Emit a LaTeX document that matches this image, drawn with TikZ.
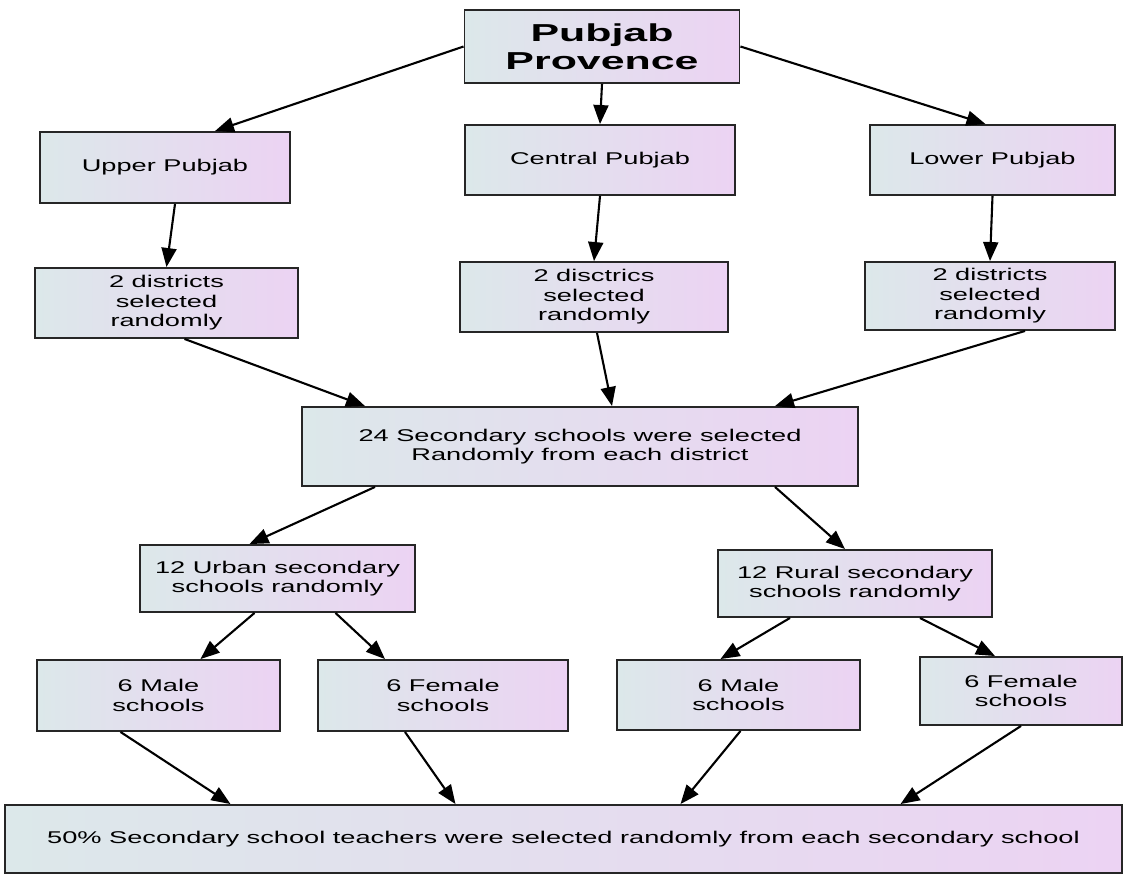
\documentclass[tikz,border=0pt]{standalone}
\usepackage{fontspec}
\setmainfont{Liberation Sans}
\newfontfamily\boxfont[FakeStretch=1.6]{Liberation Sans}
\newfontfamily\headfont[FakeStretch=1.75]{Liberation Sans}
\usetikzlibrary{arrows.meta,shapes}
\definecolor{boxleft}{RGB}{220,232,234}
\definecolor{boxright}{RGB}{236,211,243}
\tikzset{
	flowbox/.style={draw=black!85, line width=1.9pt, left color=boxleft, right color=boxright, align=center, inner sep=0pt, font=\boxfont\fontsize{17}{19.5}\selectfont},
	flowarrow/.style={line width=2.1pt, -{Triangle[length=19pt,width=15pt]}}
}
\tikzstyle{headbox}=[flowbox, font=\headfont\bfseries\fontsize{24.5}{28}\selectfont]

\begin{document}
\begin{tikzpicture}[x=1pt,y=-1pt]
	\useasboundingbox (0,0) rectangle (1127,875);
	\node[headbox, minimum width=275, minimum height=73] (prov) at (602,46.5) {Pubjab\\Provence};
	\node[flowbox, minimum width=250, minimum height=71] (up) at (165,167.5) {Upper Pubjab};
	\node[flowbox, minimum width=270, minimum height=70] (cen) at (600,160) {Central Pubjab};
	\node[flowbox, minimum width=245, minimum height=70] (low) at (992.5,160) {Lower Pubjab};
	\node[flowbox, minimum width=263, minimum height=70] (dl) at (166.5,303) {2 districts\\selected\\randomly};
	\node[flowbox, minimum width=268, minimum height=70] (dc) at (594,297) {2 disctrics\\selected\\randomly};
	\node[flowbox, minimum width=250, minimum height=68] (dr) at (990,296) {2 districts\\selected\\randomly};
	\node[flowbox, minimum width=556, minimum height=79] (sec) at (580,446.5) {24 Secondary schools were selected\\Randomly from each district};
	\node[flowbox, minimum width=275, minimum height=67] (urb) at (277.5,578.5) {12 Urban secondary\\schools randomly};
	\node[flowbox, minimum width=274, minimum height=67] (rur) at (855,583.5) {12 Rural secondary\\schools randomly};
	\node[flowbox, minimum width=243, minimum height=71] (ml) at (158.5,695.5) {6 Male\\schools};
	\node[flowbox, minimum width=250, minimum height=71] (fl) at (443,695.5) {6 Female\\schools};
	\node[flowbox, minimum width=243, minimum height=70] (mr) at (738.5,695) {6 Male\\schools};
	\node[flowbox, minimum width=202, minimum height=68] (fr) at (1021,691) {6 Female\\schools};
	\node[flowbox, minimum width=1117, minimum height=68] (all) at (563.5,839) {50\% Secondary school teachers were selected randomly from each secondary school};

	\draw[flowarrow] (prov.west) -- ([xshift=50]up.north);
	\draw[flowarrow] (prov.south) -- (cen.north);
	\draw[flowarrow] (prov.east) -- ([xshift=-7]low.north);
	\draw[flowarrow] ([xshift=10]up.south) -- (dl.north);
	\draw[flowarrow] (cen.south) -- (dc.north);
	\draw[flowarrow] (low.south) -- (dr.north);
	\draw[flowarrow] ([xshift=18]dl.south) -- ([xshift=-215]sec.north);
	\draw[flowarrow] ([xshift=3]dc.south) -- ([xshift=32]sec.north);
	\draw[flowarrow] ([xshift=35]dr.south) -- ([xshift=195]sec.north);
	\draw[flowarrow] ([xshift=-205]sec.south) -- ([xshift=-28]urb.north);
	\draw[flowarrow] ([xshift=195]sec.south) -- ([xshift=-10]rur.north);
	\draw[flowarrow] ([xshift=-23]urb.south) -- ([xshift=42]ml.north);
	\draw[flowarrow] ([xshift=58]urb.south) -- ([xshift=-58]fl.north);
	\draw[flowarrow] ([xshift=-65]rur.south) -- ([xshift=-18]mr.north);
	\draw[flowarrow] ([xshift=65]rur.south) -- ([xshift=-26]fr.north);
	\draw[flowarrow] ([xshift=-38]ml.south) -- ([xshift=-333]all.north);
	\draw[flowarrow] ([xshift=-38]fl.south) -- ([xshift=-108]all.north);
	\draw[flowarrow] ([xshift=2]mr.south) -- ([xshift=117]all.north);
	\draw[flowarrow] (fr.south) -- ([xshift=337]all.north);
\end{tikzpicture}
\end{document}
